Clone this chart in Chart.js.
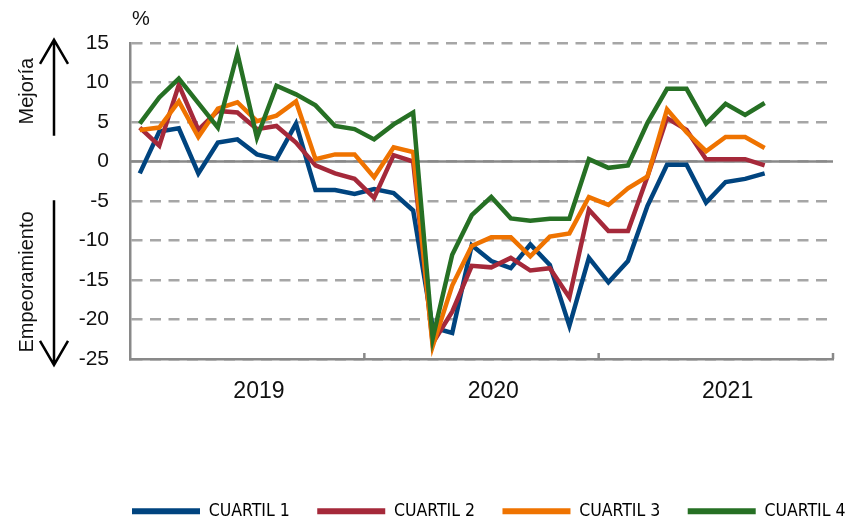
<!DOCTYPE html>
<html>
<head>
<meta charset="utf-8">
<script src="https://cdn.jsdelivr.net/npm/chart.js@4"></script>
<style>
  html, body { margin: 0; padding: 0; background: #fff; }
  #wrap { width: 861px; height: 518px; }
</style>
</head>
<body>
<div id="wrap"><canvas id="chart" width="861" height="518"></canvas></div>
<script>
const years = ["2019", "2020", "2021"];
const months = ["ene", "feb", "mar", "abr", "may", "jun", "jul", "ago", "sep", "oct", "nov", "dic"];
const xLabels = [];
years.forEach(y => months.forEach(m => xLabels.push(m + "-" + y.slice(2))));

const seriesNames = ["CUARTIL 1", "CUARTIL 2", "CUARTIL 3", "CUARTIL 4"];
const seriesColors = ["#00447F", "#A5293A", "#EF7300", "#267024"];

const cuartil1 = [-1.5, 3.8, 4.2, -1.5, 2.4, 2.8, 0.9, 0.3, 4.8, -3.6, -3.6, -4.1,
  -3.5, -4.0, -6.2, -21.0, -21.7, -10.6, -12.6, -13.5, -10.5, -13.1, -20.8, -12.2,
  -15.3, -12.6, -5.6, -0.4, -0.4, -5.2, -2.6, -2.2, -1.5];
const cuartil2 = [4.3, 2.0, 9.7, 4.0, 6.4, 6.2, 4.1, 4.5, 2.4, -0.5, -1.5, -2.2,
  -4.6, 0.8, 0.0, -23.0, -19.0, -13.2, -13.4, -12.2, -13.8, -13.5, -17.2, -6.1,
  -8.8, -8.8, -1.9, 5.5, 4.0, 0.3, 0.3, 0.3, -0.5];
const cuartil3 = [4.0, 4.3, 7.6, 3.1, 6.7, 7.5, 5.1, 5.8, 7.6, 0.3, 0.9, 0.9,
  -2.0, 1.8, 1.2, -23.4, -15.7, -10.7, -9.6, -9.6, -12.0, -9.5, -9.1, -4.5,
  -5.5, -3.4, -1.9, 6.6, 3.7, 1.3, 3.1, 3.1, 1.7];
const cuartil4 = [4.8, 8.1, 10.5, 7.4, 4.3, 13.7, 3.0, 9.6, 8.5, 7.1, 4.5, 4.1,
  2.8, 4.7, 6.2, -22.4, -11.8, -6.8, -4.5, -7.2, -7.5, -7.25, -7.25, 0.3,
  -0.8, -0.5, 4.9, 9.2, 9.2, 4.8, 7.3, 5.9, 7.4];
const allSeries = [cuartil1, cuartil2, cuartil3, cuartil4];

const yMin = -25, yMax = 15, yStep = 5;

const AXIS = "#898989";
const FONT = "'Liberation Sans', Arial, Helvetica, sans-serif";
const NARROW = "'Liberation Sans Narrow', 'DejaVu Sans Condensed', sans-serif";

// where the legend should start (first swatch) and its vertical nudge
const LEG_X = 132, LEG_DY = 12;

const extras = {
  id: "extras",
  afterLayout(chart) {
    const lg = chart.legend;
    const pad = lg.options.labels.padding;
    const x0 = (lg.left + pad + lg.right - lg.lineWidths[0]) / 2;
    const dx = LEG_X - x0;
    lg.left += dx; lg.right += dx;
    lg.top += LEG_DY; lg.bottom += LEG_DY;
  },
  beforeDatasetsDraw(chart) {
    const {ctx, chartArea: a, scales: {x, y}} = chart;
    ctx.save();
    // zero line
    const y0 = y.getPixelForValue(0);
    ctx.strokeStyle = AXIS;
    ctx.lineWidth = 2.5;
    ctx.beginPath(); ctx.moveTo(a.left, y0); ctx.lineTo(a.right, y0); ctx.stroke();
    // year separators on the x axis
    const step = x.getPixelForValue(1) - x.getPixelForValue(0);
    for (let k = 1; k <= years.length; k++) {
      const px = x.getPixelForValue(k * 12 - 1) + step / 2;
      ctx.beginPath(); ctx.moveTo(px, a.bottom); ctx.lineTo(px, a.bottom - 6); ctx.stroke();
    }
    ctx.restore();
  },
  afterDraw(chart) {
    const {ctx, scales: {y}} = chart;
    ctx.save();
    ctx.fillStyle = "#111";
    ctx.font = "20px " + FONT;
    ctx.textAlign = "center";
    ctx.textBaseline = "middle";
    ctx.fillText("%", 141, 19);

    const ax = 54;
    ctx.font = "20px " + FONT;
    [["Mejoría", 27, y.getPixelForValue(8.9)], ["Empeoramiento", 27, y.getPixelForValue(-15.25)]].forEach(([t, tx, ty]) => {
      ctx.save();
      ctx.translate(tx, ty);
      ctx.rotate(-Math.PI / 2);
      ctx.fillText(t, 0, 0);
      ctx.restore();
    });

    ctx.strokeStyle = "#000";
    ctx.lineWidth = 2.5;
    const up0 = y.getPixelForValue(3.25), up1 = y.getPixelForValue(15.4);
    const dn0 = y.getPixelForValue(-4.9), dn1 = y.getPixelForValue(-25.75);
    ctx.beginPath();
    ctx.moveTo(ax, up0); ctx.lineTo(ax, up1);
    ctx.moveTo(ax - 14, up1 + 24); ctx.lineTo(ax, up1); ctx.lineTo(ax + 14, up1 + 24);
    ctx.moveTo(ax, dn0); ctx.lineTo(ax, dn1);
    ctx.moveTo(ax - 14, dn1 - 24); ctx.lineTo(ax, dn1); ctx.lineTo(ax + 14, dn1 - 24);
    ctx.stroke();
    ctx.restore();
  }
};

const ctx = document.getElementById("chart").getContext("2d");
const myChart = new Chart(ctx, {
  type: "line",
  data: {
    labels: xLabels,
    datasets: allSeries.map((vals, i) => ({
      label: seriesNames[i],
      data: vals,
      borderColor: seriesColors[i],
      backgroundColor: seriesColors[i],
      borderWidth: 4.5,
      pointRadius: 0,
      fill: false,
      tension: 0,
      order: allSeries.length - i
    }))
  },
  options: {
    responsive: false,
    animation: false,
    layout: { padding: { top: 43, right: 28, left: 0, bottom: 0 } },
    plugins: {
      tooltip: { enabled: false },
      legend: {
        position: "bottom",
        labels: {
          boxWidth: 68,
          boxHeight: 6,
          padding: 27.5,
          color: "#222",
          font: { family: NARROW, size: 17.5 },
          generateLabels: chart => chart.data.datasets.map((ds, i) => ({
            text: ds.label,
            fillStyle: ds.borderColor,
            strokeStyle: ds.borderColor,
            lineWidth: 0,
            hidden: false,
            datasetIndex: i
          }))
        }
      }
    },
    scales: {
      x: {
        type: "category",
        offset: true,
        afterFit: s => { s.height = 159 - s.chart.legend.height; },
        grid: { display: false, drawTicks: false },
        border: { display: true, color: AXIS, width: 2.5 },
        ticks: {
          autoSkip: false,
          maxRotation: 0,
          padding: 19,
          labelOffset: 2,
          color: "#111",
          font: { family: FONT, size: 23 },
          callback: (v, i) => (i % 12 === 6 ? years[Math.floor(i / 12)] : "")
        }
      },
      y: {
        min: yMin,
        max: yMax,
        afterFit: s => { s.width = 130; },
        grid: { color: "#A6A6A6", lineWidth: 2.5, drawTicks: false },
        border: { display: true, color: AXIS, width: 2.5, dash: [11, 7.5] },
        ticks: {
          stepSize: yStep,
          padding: 21,
          color: "#111",
          font: { family: FONT, size: 21 }
        }
      }
    }
  },
  plugins: [extras]
});
</script>
</body>
</html>
